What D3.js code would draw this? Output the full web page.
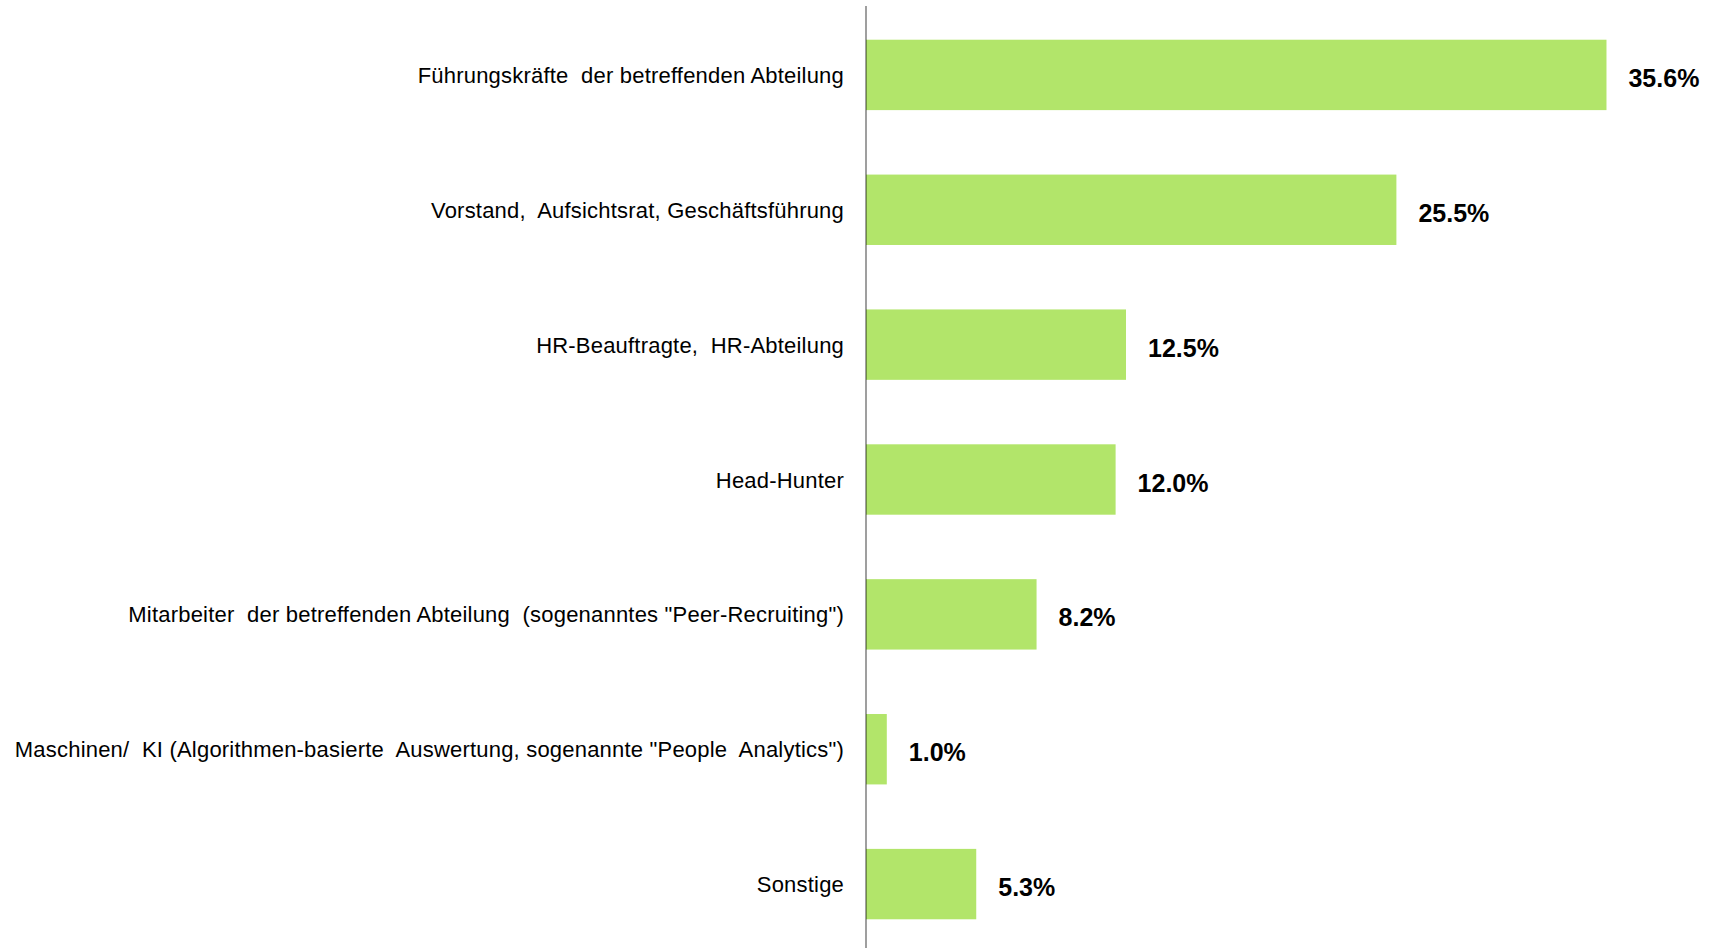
<!DOCTYPE html>
<html>
<head>
<meta charset="utf-8">
<script src="https://cdn.jsdelivr.net/npm/d3@7"></script>
<style>
  body { margin: 0; background: #fff; }
  svg { display: block; }
  .cat { font-family: "Liberation Sans", Arial, sans-serif; font-size: 22px; letter-spacing: 0.2px; fill: #000; white-space: pre; }
  .val { font-family: "Liberation Sans", Arial, sans-serif; font-size: 25px; font-weight: bold; fill: #000; }
</style>
</head>
<body>
<svg width="1721" height="948"></svg>
<script>
var categories = [
	"Führungskräfte  der betreffenden Abteilung",
	"Vorstand,  Aufsichtsrat, Geschäftsführung",
	"HR-Beauftragte,  HR-Abteilung",
	"Head-Hunter",
	"Mitarbeiter  der betreffenden Abteilung  (sogenanntes \"Peer-Recruiting\")",
	"Maschinen/  KI (Algorithmen-basierte  Auswertung, sogenannte \"People  Analytics\")",
	"Sonstige"
];
var values = [35.6, 25.5, 12.5, 12.0, 8.2, 1.0, 5.3];
var valueLabels = ["35.6%", "25.5%", "12.5%", "12.0%", "8.2%", "1.0%", "5.3%"];

var axisX = 866;
var barColor = "#b2e56a";

var data = categories.map(function(c, i) {
	return {cat: c, v: values[i], label: valueLabels[i]};
});

var svg = d3.select('svg');

var x = d3.scaleLinear()
	.domain([0, 40])
	.range([axisX, axisX + 832]);

var y = d3.scaleBand()
	.domain(categories)
	.range([6, 953])
	.paddingInner(0.478)
	.paddingOuter(0.25);

// bars
svg.selectAll('rect.bar')
	.data(data)
	.enter()
	.append('rect')
	.attr('class', 'bar')
	.attr('x', x(0))
	.attr('y', function(d) { return y(d.cat); })
	.attr('width', function(d) { return x(d.v) - x(0); })
	.attr('height', y.bandwidth())
	.style('fill', barColor);

// vertical axis line
svg.append('line')
	.attr('x1', x(0))
	.attr('x2', x(0))
	.attr('y1', 6)
	.attr('y2', 948)
	.style('stroke', '#000')
	.style('stroke-opacity', 0.5)
	.style('stroke-width', '1.5px');

// category labels
svg.selectAll('text.cat')
	.data(data)
	.enter()
	.append('text')
	.attr('class', 'cat')
	.attr('x', x(0) - 22)
	.attr('y', function(d) { return y(d.cat) + y.bandwidth() / 2 + 8; })
	.attr('text-anchor', 'end')
	.text(function(d) { return d.cat; });

// value labels
svg.selectAll('text.val')
	.data(data)
	.enter()
	.append('text')
	.attr('class', 'val')
	.attr('x', function(d) { return x(d.v) + 22; })
	.attr('y', function(d) { return y(d.cat) + y.bandwidth() / 2 + 12; })
	.text(function(d) { return d.label; });
</script>
</body>
</html>
